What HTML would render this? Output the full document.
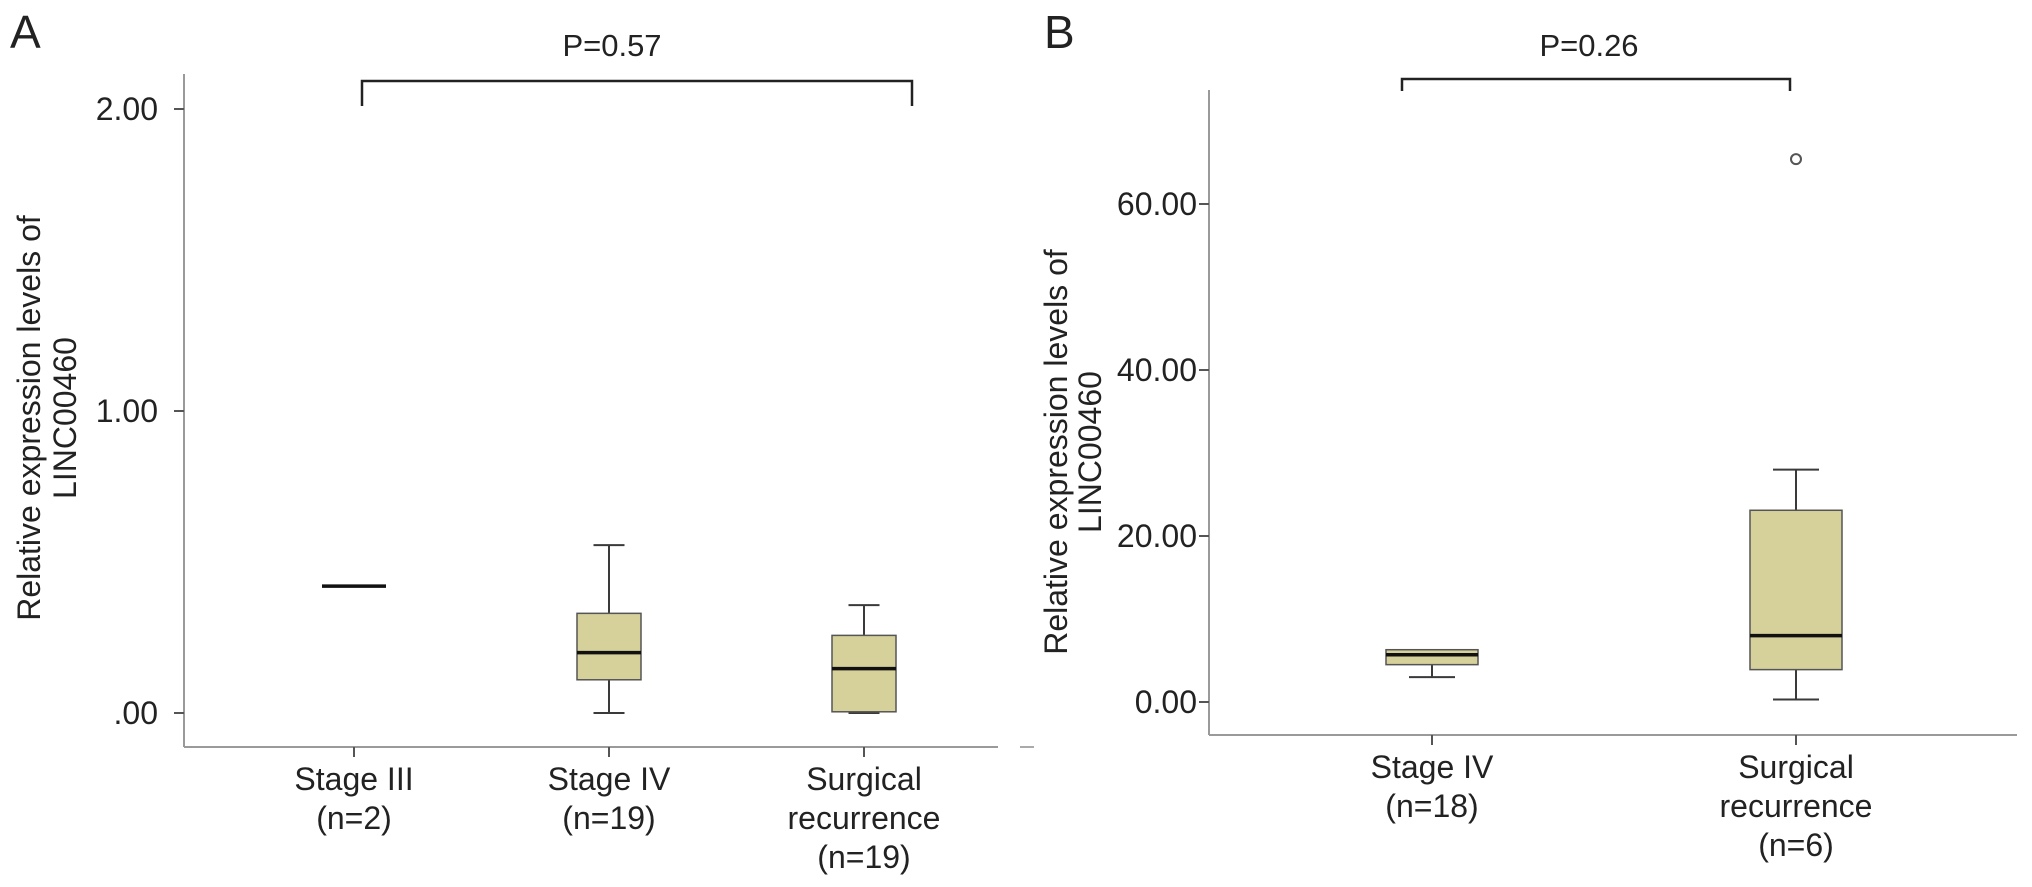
<!DOCTYPE html>
<html><head><meta charset="utf-8">
<style>
html,body{margin:0;padding:0;background:#fff;width:2032px;height:887px;overflow:hidden}
svg{display:block}
text{font-family:"Liberation Sans",sans-serif;fill:#222}
</style></head>
<body>
<svg id="chart" width="2032" height="887" viewBox="0 0 2032 887" xmlns="http://www.w3.org/2000/svg">
<g id="pa"></g>
<g id="pb"></g>
<line x1="1020" y1="747" x2="1034" y2="747" stroke="#aaa" stroke-width="2"/>
</svg>
<script>
// Panel A data
const catsA = ["Stage III|(n=2)", "Stage IV|(n=19)", "Surgical|recurrence|(n=19)"];
const minA = [0.42, 0.00, 0.00];
const q1A = [0.42, 0.11, 0.004];
const medA = [0.42, 0.20, 0.147];
const q3A = [0.42, 0.33, 0.257];
const maxA = [0.42, 0.556, 0.357];
const ticksA = [0, 1, 2];
const tickLabelsA = [".00", "1.00", "2.00"];
const outA = [];
// Panel B data
const catsB = ["Stage IV|(n=18)", "Surgical|recurrence|(n=6)"];
const minB = [3.0, 0.3];
const q1B = [4.5, 3.9];
const medB = [5.7, 8.0];
const q3B = [6.3, 23.1];
const maxB = [6.3, 28.0];
const ticksB = [0, 20, 40, 60];
const tickLabelsB = ["0.00", "20.00", "40.00", "60.00"];
const outB = [null, 65.4];

const NS = "http://www.w3.org/2000/svg";
function mk(parent, tag, attrs, txt){
  const e = document.createElementNS(NS, tag);
  for (const k in attrs) e.setAttribute(k, attrs[k]);
  if (txt !== undefined) e.textContent = txt;
  parent.appendChild(e);
  return e;
}

function panel(g, cfg){
  const y = v => cfg.y0 - v * cfg.ppu;
  const x = i => cfg.cx[i];
  const AX = "#9a9a9a";
  const L = mk(g, "text", {x: cfg.letterX, y: 48, "font-size": 46});
  L.textContent = cfg.letter;
  
  
  const ya = mk(g, "line", {x1: cfg.axX, y1: cfg.axTop, x2: cfg.axX, y2: cfg.axBot, stroke: AX, "stroke-width": 2});
  
  
  const xa = mk(g, "line", {x1: cfg.axX, y1: cfg.axBot, x2: cfg.axRight, y2: cfg.axBot, stroke: AX, "stroke-width": 2});
  
  
  cfg.ticks.forEach((t, i) => {
    const tl = mk(g, "line", {x1: cfg.axX - 10, y1: y(t), x2: cfg.axX, y2: y(t), stroke: "#555", "stroke-width": 2});
    
    
    const tt = mk(g, "text", {x: cfg.labEnd, y: y(t) + 11, "font-size": 32, "text-anchor": "end"}, cfg.tickLabels[i]);
    
    
  });
  const yt = mk(g, "text", {transform: `translate(${cfg.titleX},${cfg.titleY}) rotate(-90)`, "font-size": 32, "text-anchor": "middle"});
  
  
  mk(yt, "tspan", {x: 0, dy: 0}, "Relative expression levels of");
  mk(yt, "tspan", {x: 0, dy: cfg.titleGap}, "LINC00460");
  cfg.cats.forEach((c, i) => {
    const xt = mk(g, "line", {x1: x(i), y1: cfg.axBot, x2: x(i), y2: cfg.axBot + 10, stroke: "#555", "stroke-width": 2});
    
    
    const lab = mk(g, "text", {"font-size": 32, "text-anchor": "middle"});
    
    
    c.split("|").forEach((s, j) => mk(lab, "tspan", {x: x(i), y: cfg.axBot + 43 + j * 39}, s));
  });
  const hw = cfg.boxW / 2, cw = cfg.capW / 2;
  cfg.cats.forEach((c, i) => {
    const bg = mk(g, "g", {});
    
    
    const S = "#3a3a3a";
    if (cfg.max[i] > cfg.q3[i]) {
      mk(bg, "line", {x1: x(i), y1: y(cfg.max[i]), x2: x(i), y2: y(cfg.q3[i]), stroke: S, "stroke-width": 2});
      mk(bg, "line", {x1: x(i) - cw, y1: y(cfg.max[i]), x2: x(i) + cw, y2: y(cfg.max[i]), stroke: S, "stroke-width": 2});
    }
    if (cfg.min[i] < cfg.q1[i]) {
      mk(bg, "line", {x1: x(i), y1: y(cfg.q1[i]), x2: x(i), y2: y(cfg.min[i]), stroke: S, "stroke-width": 2});
      mk(bg, "line", {x1: x(i) - cw, y1: y(cfg.min[i]), x2: x(i) + cw, y2: y(cfg.min[i]), stroke: S, "stroke-width": 2});
    }
    const h = Math.max(y(cfg.q1[i]) - y(cfg.q3[i]), 0);
    if (h > 0) mk(bg, "rect", {x: x(i) - hw, y: y(cfg.q3[i]), width: cfg.boxW, height: h, fill: "#d6d09a", stroke: "#555", "stroke-width": 1.5});
    const mw = h > 0 ? hw : cfg.flatW / 2;
    mk(bg, "line", {x1: x(i) - mw, y1: y(cfg.med[i]), x2: x(i) + mw, y2: y(cfg.med[i]), stroke: "#111", "stroke-width": 3.5});
    if (cfg.out[i] != null) {
      const o = mk(bg, "circle", {cx: x(i), cy: y(cfg.out[i]), r: 5, fill: "none", stroke: "#555", "stroke-width": 2});
      
      
    }
  });
  const br = mk(g, "path", {d: `M${cfg.brL},${cfg.brB} V${cfg.brT} H${cfg.brR} V${cfg.brB}`, fill: "none", stroke: "#222", "stroke-width": 2.5});
  
  
  const pt = mk(g, "text", {x: cfg.pX, y: 56, "font-size": 31, "text-anchor": "middle"}, cfg.p);
  
  
}

panel(document.getElementById("pa"), {
  letter: "A", letterX: 10, cats: catsA, min: minA, q1: q1A, med: medA, q3: q3A, max: maxA, out: outA,
  ticks: ticksA, tickLabels: tickLabelsA, y0: 713, ppu: 302, cx: [354, 609, 864],
  axX: 184, axTop: 74, axBot: 747, axRight: 998, labEnd: 158, titleX: 40, titleY: 418, titleGap: 36,
  boxW: 64, capW: 31, flatW: 64, brL: 362, brR: 912, brT: 81, brB: 106, pX: 612, p: "P=0.57"
});
panel(document.getElementById("pb"), {
  letter: "B", letterX: 1044, cats: catsB, min: minB, q1: q1B, med: medB, q3: q3B, max: maxB, out: outB,
  ticks: ticksB, tickLabels: tickLabelsB, y0: 702, ppu: 8.3, cx: [1432, 1796],
  axX: 1209, axTop: 90, axBot: 735, axRight: 2017, labEnd: 1197, titleX: 1067, titleY: 452, titleGap: 34,
  boxW: 92, capW: 46, flatW: 92, brL: 1402, brR: 1790, brT: 79, brB: 91, pX: 1589, p: "P=0.26"
});
</script>
</body></html>
